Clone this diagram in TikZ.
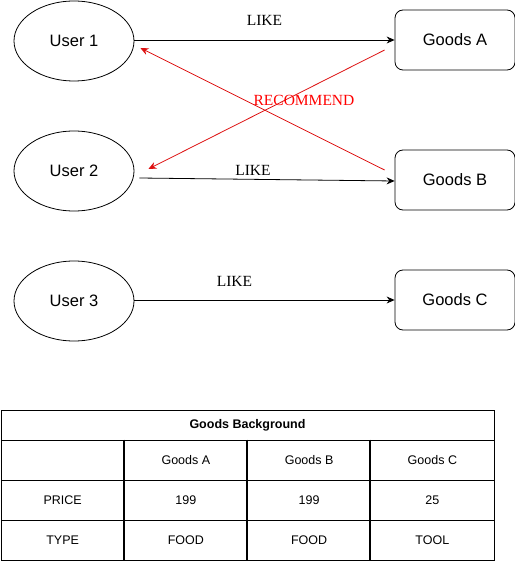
\documentclass[tikz,border=0pt]{standalone}
\usepackage{fontspec}
\setmainfont{Liberation Sans}
\newfontfamily\labelfont{Liberation Serif}
\usepackage{xcolor}
\usepackage{tikz}
\usetikzlibrary{
	shapes.geometric,
	arrows.meta,
	positioning,
	calc
}
\definecolor{recred}{HTML}{FF0000}
\definecolor{recarrow}{HTML}{DD1111}

\begin{document}
\begin{tikzpicture}[
				x=1bp, y=-1bp,
				user/.style={
					ellipse, draw, line width=0.8bp,
					minimum width=120bp, minimum height=80bp, inner sep=0pt,
					font=\fontsize{16.5bp}{18bp}\selectfont
				},
				goods/.style={
					rectangle, draw, rounded corners=8bp, line width=0.8bp,
					minimum width=120bp, minimum height=60bp, inner sep=0pt,
					font=\fontsize{16.5bp}{18bp}\selectfont
				},
				arrow/.style={-{Stealth[length=8bp,width=7bp]}, line width=0.8bp},
				recarrowline/.style={arrow, recarrow},
				edgelabel/.style={font=\labelfont\fontsize{15.5bp}{17bp}\selectfont, inner sep=0pt},
				cell/.style={
					rectangle, draw, line width=0.8bp,
					minimum width=123.25bp, minimum height=40bp, inner sep=0pt,
					font=\fontsize{12.5bp}{14bp}\selectfont
				},
				headcell/.style={
					cell, minimum width=493bp, minimum height=30bp,
					font=\bfseries\fontsize{12.5bp}{14bp}\selectfont
				},
				]
				\useasboundingbox (0,0) rectangle (515,562);
				
				%users
				\node[user] (user1) at (74,41) {User 1};
				\node[user] (user2) at (74,171) {User 2};
				\node[user] (user3) at (74,301) {User 3};
				
				%goods
				\node[goods] (goodsA) at (455,40) {Goods A};
				\node[goods] (goodsB) at (455,180) {\raisebox{-1bp}{Goods B}};
				\node[goods] (goodsC) at (455,300) {Goods C};
				
				%like arrows
				\draw[arrow] (user1.east |- goodsA.west) -- (goodsA.west)
					node[edgelabel, midway, yshift=20bp] (like1) {LIKE};
				\draw[arrow] ([xshift=5bp,yshift=-7bp]user2.east) -- ([yshift=-1bp]goodsB.west)
					node[edgelabel, midway, xshift=-14bp, yshift=9bp] (like2) {LIKE};
				\draw[arrow] (user3.east |- goodsC.west) -- (goodsC.west)
					node[edgelabel, midway, xshift=-30bp, yshift=19bp] (like3) {LIKE};
				
				%recommend arrows
				\draw[recarrowline] ([xshift=-10bp,yshift=10bp]goodsB.west) -- ([xshift=6bp,yshift=-7bp]user1.east);
				\draw[recarrowline] ([xshift=-10bp,yshift=-10bp]goodsA.west) -- ([xshift=14bp,yshift=2bp]user2.east);
				\node[edgelabel, text=recred] (recommend) at (304,100) {RECOMMEND};
				
				%table
				\node[headcell] (tablehead) at (247.5,425) {Goods Background};
				\foreach \txt [count=\i] in {{},Goods A,Goods B,Goods C,PRICE,199,199,25,TYPE,FOOD,FOOD,TOOL}{
					\pgfmathtruncatemacro\r{(\i-1)/4}
					\pgfmathtruncatemacro\c{mod(\i-1,4)}
					\node[cell] (cell\r\c) at ({62.625+123.25*\c},{460+40*\r}) {\txt};
				}
				\foreach \c in {1,2,3}
					\draw[line width=1.8bp] (cell0\c.north west) -- (cell2\c.south west);
			\end{tikzpicture}
\end{document}
